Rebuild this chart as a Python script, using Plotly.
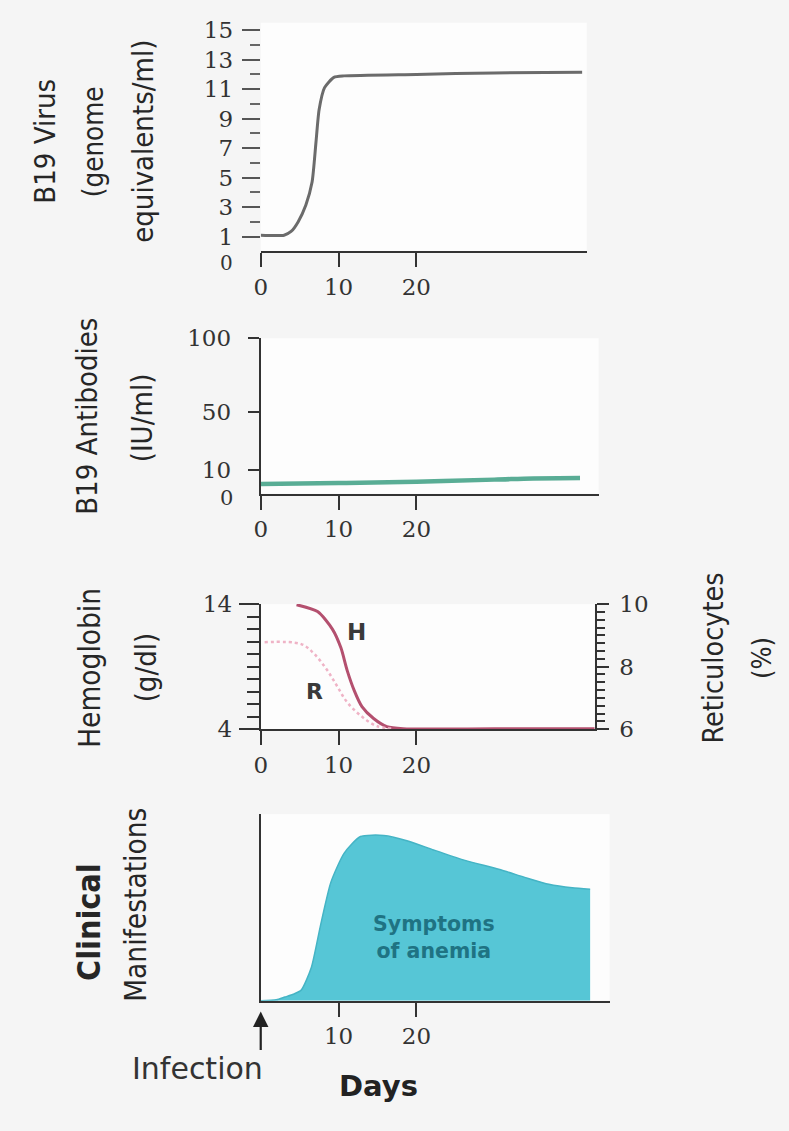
import plotly.graph_objects as go

W, H = 789, 1131

# ---------------- data ----------------
virus_days = [0, 3, 3.9, 4.8, 5.8, 6.6, 7.1, 7.5, 8.2, 9.4, 10.7, 20, 30, 41.3]
virus_vals = [1.1, 1.1, 1.35, 2.0, 3.15, 4.7, 7.4, 9.6, 11.1, 11.8, 11.9, 12.0, 12.1, 12.15]

ab_days = [0, 10, 20, 30, 35, 41]
ab_vals = [0.6, 1.3, 2.2, 3.6, 4.4, 4.7]

hb_days = [4.6, 7.3, 9.2, 10.3, 11.1, 12, 13, 14.5, 16.2, 18.3, 30, 42.9]
hb_vals = [13.95, 13.4, 12.0, 10.5, 8.7, 7.1, 5.8, 4.85, 4.2, 4.03, 4.03, 4.03]

ret_days = [0.5, 5.2, 6.9, 8.5, 9.8, 11.1, 12.9, 14.9, 17]
ret_vals = [8.78, 8.72, 8.4, 7.9, 7.38, 6.86, 6.42, 6.1, 6.02]

clin_days = [0, 2, 3.1, 4.2, 5.2, 6.5, 7.7, 9.0, 10.7, 12.8, 15.8, 19, 22.2, 26, 30.7, 34, 37, 40, 42.3]
clin_vals = [0, 0.5, 2, 3.5, 5.7, 17.8, 40.8, 63.4, 79, 88, 88.6, 85.5, 80.8, 75.5, 70.3, 66, 62.4, 60.5, 59.8]

day_ticks = [0, 10, 20]
day_ticks_clin = [10, 20]
virus_ticks = [1, 3, 5, 7, 9, 11, 13, 15]
virus_minor = [2, 4, 6, 8, 10, 12, 14]
ab_ticks = [10, 50, 100]
hb_ticks = [4, 14]
hb_minor = [5, 6, 7, 8, 9, 10, 11, 12, 13]
ret_ticks = [6, 8, 10]
ret_minor = [6.25, 6.5, 6.75, 7, 7.25, 7.5, 7.75, 8.25, 8.5, 8.75, 9, 9.25, 9.5, 9.75]


def fx(p):
    return p / W


def fy(p):
    return 1 - p / H


AX = "#333333"
TICKFONT = dict(family="DejaVu Serif", size=23, color="#333333")
TITLE_FAMILY = "DejaVu Sans Condensed, DejaVu Sans"

fig = go.Figure()

fig.add_trace(go.Scatter(x=virus_days, y=virus_vals, mode="lines", xaxis="x", yaxis="y",
                         line=dict(color="#6b6b6b", width=3, shape="spline", smoothing=0.6),
                         showlegend=False))
fig.add_trace(go.Scatter(x=ab_days, y=ab_vals, mode="lines", xaxis="x2", yaxis="y2",
                         line=dict(color="#3d9f83", width=4.5, shape="spline"), opacity=0.85,
                         showlegend=False))
fig.add_trace(go.Scatter(x=ret_days, y=ret_vals, mode="lines", xaxis="x3", yaxis="y4",
                         line=dict(color="#efb3c6", width=2.5, dash="dot", shape="spline"),
                         showlegend=False))
fig.add_trace(go.Scatter(x=hb_days, y=hb_vals, mode="lines", xaxis="x3", yaxis="y3",
                         line=dict(color="#b4506f", width=3, shape="spline", smoothing=0.7),
                         showlegend=False))
fig.add_trace(go.Scatter(x=clin_days, y=clin_vals, mode="lines", xaxis="x4", yaxis="y5",
                         fill="tozeroy", fillcolor="#56c6d6",
                         line=dict(color="#45b4c5", width=1.5, shape="spline", smoothing=0.6),
                         showlegend=False))


def xaxis(dom, rng, anchor, tickvals):
    return dict(domain=[fx(dom[0]), fx(dom[1])], range=rng, anchor=anchor,
                showline=True, linecolor=AX, linewidth=2, ticks="outside", ticklen=14,
                tickwidth=2, tickcolor=AX, tickvals=tickvals, tickfont=TICKFONT,
                showgrid=False, zeroline=False, fixedrange=True)


layout = dict(
    width=W, height=H, margin=dict(l=0, r=0, t=0, b=0), autosize=False,
    paper_bgcolor="#f5f5f5", plot_bgcolor="#fdfdfd", showlegend=False,
    xaxis=xaxis((256, 585), [0, 41.9], "y", day_ticks),
    xaxis2=xaxis((256, 597), [0, 43.4], "y2", day_ticks),
    xaxis3=xaxis((256, 593), [0, 42.9], "y3", day_ticks),
    xaxis4=xaxis((256, 608), [0, 44.8], "y5", day_ticks_clin),
    yaxis=dict(domain=[fy(244), fy(10)], range=[0, 15.5], anchor="x",
               showline=False, ticks="outside", ticklen=18, tickwidth=2, tickcolor="#555",
               tickvals=virus_ticks, tickfont=dict(family="DejaVu Serif", size=23, color="#333"),
               ticklabelstandoff=4,
               minor=dict(tickmode="array", tickvals=virus_minor, ticks="outside",
                          ticklen=10, tickwidth=2, tickcolor="#666"),
               showgrid=False, zeroline=False, fixedrange=True),
    yaxis2=dict(domain=[fy(492), fy(333)], range=[-6, 100], anchor="x2",
                showline=True, linecolor=AX, linewidth=2, ticks="outside", ticklen=11,
                tickwidth=2, tickcolor=AX, tickvals=ab_ticks, tickfont=TICKFONT,
                ticklabelstandoff=12,
                showgrid=False, zeroline=False, fixedrange=True),
    yaxis3=dict(domain=[fy(733), fy(605)], range=[4, 14], anchor="x3",
                showline=True, linecolor=AX, linewidth=2, ticks="outside", ticklen=20,
                tickwidth=2, tickcolor=AX, tickvals=hb_ticks, tickfont=TICKFONT,
                ticklabelstandoff=2,
                minor=dict(tickmode="array", tickvals=hb_minor, ticks="outside",
                           ticklen=12, tickwidth=2, tickcolor=AX),
                showgrid=False, zeroline=False, fixedrange=True),
    yaxis4=dict(domain=[fy(733), fy(605)], range=[6, 10], anchor="x3", overlaying="y3",
                side="right", showline=True, linecolor=AX, linewidth=2, ticks="outside",
                ticklen=12, tickwidth=2, tickcolor=AX, tickvals=ret_ticks, tickfont=TICKFONT,
                ticklabelstandoff=6,
                minor=dict(tickmode="array", tickvals=ret_minor, ticks="outside",
                           ticklen=8, tickwidth=1.5, tickcolor=AX),
                showgrid=False, zeroline=False, fixedrange=True),
    yaxis5=dict(domain=[fy(1011), fy(820)], range=[0, 100], anchor="x4",
                showline=True, linecolor=AX, linewidth=2, ticks="", showticklabels=False,
                showgrid=False, zeroline=False, fixedrange=True),
)
fig.update_layout(**layout)

# zero labels at the broken axes
fig.add_annotation(text="0", x=0, y=0, xref="x", yref="y", showarrow=False,
                   xanchor="right", yanchor="middle", xshift=-26, yshift=-12,
                   font=dict(family="DejaVu Serif", size=20, color="#333"))
fig.add_annotation(text="0", x=0, y=-6, xref="x2", yref="y2", showarrow=False,
                   xanchor="right", yanchor="middle", xshift=-26, yshift=-4,
                   font=dict(family="DejaVu Serif", size=21, color="#333"))


def vtitle(text, px, py, size=29, bold=False):
    t = f"<b>{text}</b>" if bold else text
    fig.add_annotation(text=t, x=fx(px), y=fy(py), xref="paper", yref="paper",
                       textangle=-90, showarrow=False, xanchor="center", yanchor="middle",
                       font=dict(family=TITLE_FAMILY, size=size, color="#262626"))


vtitle("B19 Virus", 38, 131, 29)
vtitle("(genome", 87, 132, 27.5)
vtitle("equivalents/ml)", 137, 131, 29)
vtitle("B19 Antibodies", 80, 413, 29)
vtitle("(IU/ml)", 137, 414, 29)
vtitle("Hemoglobin", 83, 670, 29.5)
vtitle("(g/dl)", 140, 670, 29)
vtitle("Reticulocytes", 713, 660, 28.5)
vtitle("(%)", 762, 660, 27)
vtitle("Clinical", 82, 930, 32, bold=True)
vtitle("Manifestations", 130, 913, 29.5)

# curve labels
fig.add_annotation(text="<b>H</b>", x=12.3, y=11.8, xref="x3", yref="y3", showarrow=False,
                   xanchor="center", yanchor="middle",
                   font=dict(family="DejaVu Sans", size=23, color="#3a3a3a"))
fig.add_annotation(text="<b>R</b>", x=6.9, y=7.0, xref="x3", yref="y3", showarrow=False,
                   xanchor="center", yanchor="middle",
                   font=dict(family="DejaVu Sans", size=22, color="#3a3a3a"))

# symptoms text
fig.add_annotation(text="<b>Symptoms<br>of anemia</b>", x=22.2, y=34, xref="x4", yref="y5",
                   showarrow=False, xanchor="center", yanchor="middle",
                   font=dict(family="DejaVu Sans", size=20.5, color="#1f7383"))

# infection arrow
fig.add_annotation(text="", x=0, y=fy(1022), xref="x4", yref="paper", showarrow=True,
                   ax=0, ay=40, arrowhead=2, arrowsize=1.4, arrowwidth=2.2, arrowcolor="#222")
fig.add_annotation(text="Infection", x=fx(192), y=fy(1080), xref="paper", yref="paper",
                   showarrow=False, xanchor="center", yanchor="middle",
                   font=dict(family="DejaVu Sans", size=30, color="#333"))
fig.add_annotation(text="<b>Days</b>", x=fx(375), y=fy(1098), xref="paper", yref="paper",
                   showarrow=False, xanchor="center", yanchor="middle",
                   font=dict(family="DejaVu Sans", size=29, color="#222"))

fig.write_html(
    "out.html",
    config={"responsive": False, "displayModeBar": False},
    post_script="document.body.style.margin='0px';document.body.style.overflow='hidden';",
)
